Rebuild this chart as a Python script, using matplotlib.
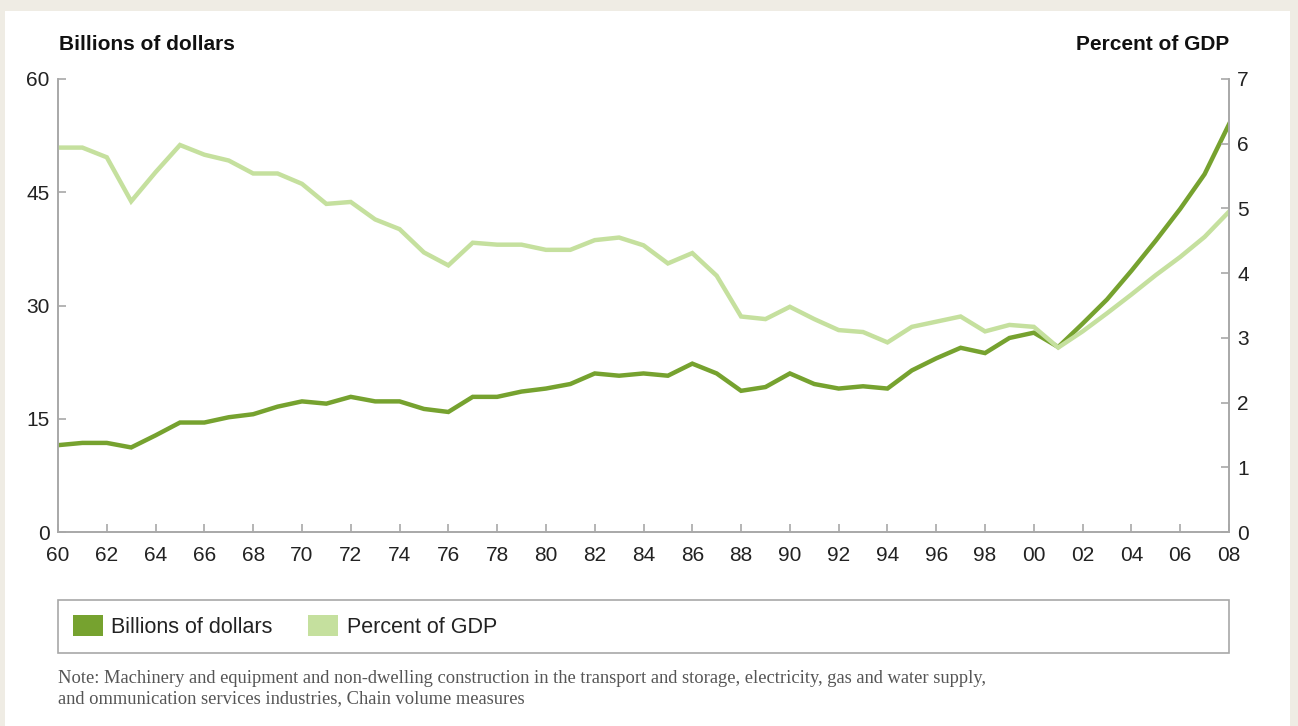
import matplotlib
matplotlib.use("Agg")
import matplotlib.pyplot as plt
from matplotlib.patches import Patch, Rectangle

# data
years = list(range(1960, 2009))
billions = [11.5, 11.8, 11.8, 11.2, 12.8, 14.5, 14.5, 15.2, 15.6, 16.6,
            17.3, 17.0, 17.9, 17.3, 17.3, 16.3, 15.9, 17.9, 17.9, 18.6,
            19.0, 19.6, 21.0, 20.7, 21.0, 20.7, 22.3, 21.0, 18.7, 19.2,
            21.0, 19.6, 19.0, 19.3, 19.0, 21.4, 23.0, 24.4, 23.7, 25.7,
            26.4, 24.5, 27.6, 30.8, 34.6, 38.6, 42.8, 47.4, 54.0]
pct_gdp = [5.94, 5.94, 5.79, 5.11, 5.56, 5.98, 5.83, 5.74, 5.54, 5.54,
           5.38, 5.07, 5.10, 4.83, 4.68, 4.32, 4.12, 4.47, 4.44, 4.44,
           4.36, 4.36, 4.51, 4.55, 4.43, 4.15, 4.31, 3.96, 3.33, 3.29,
           3.48, 3.29, 3.12, 3.09, 2.93, 3.17, 3.25, 3.33, 3.10, 3.20,
           3.17, 2.85, 3.10, 3.38, 3.67, 3.97, 4.25, 4.56, 4.95]
xtick_years = list(range(1960, 2009, 2))
xtick_labels = [f"{y % 100:02d}" for y in xtick_years]

dark = "#76a22f"
light = "#c5e09e"
grey = "#a8a8a8"
txt = "#222222"

plt.rcParams["font.family"] = ["Liberation Sans", "DejaVu Sans"]

fig = plt.figure(figsize=(12.98, 7.26), dpi=100, facecolor="#efece4")
# white panel behind everything
fig.patches.append(Rectangle((5 / 1298, 0), 1285 / 1298, 1 - 11 / 726,
                             transform=fig.transFigure, facecolor="white",
                             edgecolor="none", zorder=-10))

ax = fig.add_axes([58 / 1298, 1 - 532 / 726, 1171 / 1298, 453 / 726])
ax.set_facecolor("none")
ax2 = ax.twinx()

ax.plot(years, billions, color=dark, lw=3.2, solid_joinstyle="miter")
ax2.plot(years, pct_gdp, color=light, lw=3.2, solid_joinstyle="miter")

ax.set_xlim(1960, 2008)
ax.set_ylim(0, 60)
ax2.set_ylim(0, 7)
ax.set_yticks([0, 15, 30, 45, 60])
ax2.set_yticks(range(0, 8))
ax.set_xticks(xtick_years)
ax.set_xticklabels(xtick_labels)

for a in (ax, ax2):
    for side in a.spines:
        a.spines[side].set_color(grey)
        a.spines[side].set_linewidth(1.2)
    a.spines["top"].set_visible(False)

ax.tick_params(axis="y", direction="in", length=6, width=1.2, color=grey,
               labelsize=15, labelcolor=txt, pad=6)
ax.tick_params(axis="x", direction="in", length=6, width=1.2, color=grey,
               labelsize=15, labelcolor=txt, pad=10)
ax2.tick_params(axis="y", direction="in", length=6, width=1.2, color=grey,
                labelsize=15, labelcolor=txt, pad=6)

fig.text(59 / 1298, 1 - 45 / 726, "Billions of dollars", fontsize=15,
         fontweight="bold", color="#111111", ha="left", va="center")
fig.text(1229 / 1298, 1 - 45 / 726, "Percent of GDP", fontsize=15,
         fontweight="bold", color="#111111", ha="right", va="center")

handles = [Patch(facecolor=dark, edgecolor="none", label="Billions of dollars"),
           Patch(facecolor=light, edgecolor="none", label="Percent of GDP")]
leg = fig.legend(handles=handles, loc="center left",
                 bbox_to_anchor=(58 / 1298, 1 - 653 / 726, 1171 / 1298, 53 / 726),
                 ncol=2, frameon=False,
                 fontsize=15.5, handlelength=1.4, handleheight=1.1,
                 handletextpad=0.38, columnspacing=1.65, borderaxespad=0,
                 borderpad=0.7)
for t in leg.get_texts():
    t.set_color(txt)

# legend frame spans the full width of the chart
fig.patches.append(Rectangle((58 / 1298, 1 - 653 / 726), 1171 / 1298, 53 / 726,
                             transform=fig.transFigure, facecolor="none",
                             edgecolor=grey, lw=1.2, zorder=5))

note = ("Note: Machinery and equipment and non-dwelling construction in the transport and storage, "
        "electricity, gas and water supply,\nand ommunication services industries, Chain volume measures")
fig.text(58 / 1298, 1 - 670 / 726, note, fontsize=13.3, color="#555555",
         ha="left", va="top", linespacing=1.25,
         family=["Liberation Serif", "DejaVu Serif"])

fig.savefig("out.png", dpi=100, facecolor=fig.get_facecolor())
